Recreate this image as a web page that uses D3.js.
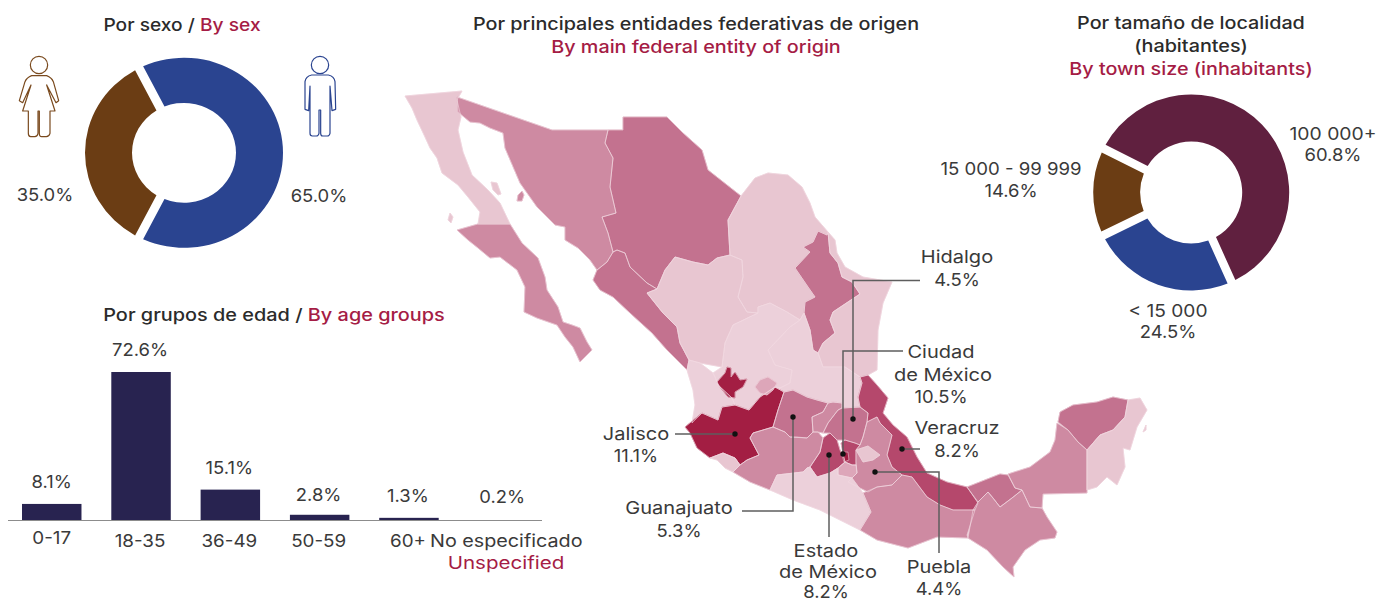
<!DOCTYPE html>
<html><head><meta charset="utf-8">
<script src="https://cdn.jsdelivr.net/npm/d3@7"></script>
<style>
html,body{margin:0;padding:0;background:#fff}
svg{display:block}
text{font-family:Inter,"Noto Sans",sans-serif;text-anchor:middle;dominant-baseline:central;fill:#3a3a3a}
.t{font-size:17.2px;font-weight:500;fill:#2b2b2b}
.r{fill:#a51c45}
.l{font-size:17.4px;font-weight:400}
</style></head><body><svg id="c" width="1378" height="603"></svg>
<script>
// ---------- data ----------
const sexLabels=["Mujeres","Hombres"];
const sexValues=[35.0,65.0];
const sexColors=["#6b3d14","#2a4490"];
const townLabels=["100 000+","< 15 000","15 000 - 99 999"];
const townValues=[60.8,24.5,14.6];
const townColors=["#60203f","#2a4490","#6b3d14"];
const ageGroups=["0-17","18-35","36-49","50-59","60+","No especificado"];
const ageValues=[8.1,72.6,15.1,2.8,1.3,0.2];
const ramp={a:"#ecd0da",b:"#e8c6d1",c:"#dda6b9",d:"#ce8aa2",e:"#c3728f",f:"#b5486c",g:"#a31e43"};
// state outlines (map units)
const states=[
["Baja California","b",[[[5,16],[62,11],[57,20],[61,37],[58,50],[63,72],[72,95],[88,110],[100,123],[110,144],[78,144],[80,132],[68,117],[58,105],[42,93],[37,78],[30,68],[25,57],[17,40],[12,28]],[[91,102],[97,103],[101,114],[98,115],[93,110]],[[50,133],[53,137],[51,143],[48,140]]]],
["Baja California Sur","d",[[[57,150],[78,144],[110,144],[122,163],[138,178],[145,197],[147,210],[158,227],[163,242],[172,245],[180,248],[187,262],[192,270],[180,282],[173,267],[165,257],[157,245],[137,238],[124,232],[125,207],[117,190],[100,177],[90,178],[78,168],[68,160]]]],
["Sonora","d",[[[57,17],[152,50],[208,50],[205,63],[213,78],[210,107],[216,133],[202,137],[208,153],[213,172],[207,182],[197,190],[190,180],[178,168],[165,160],[165,147],[155,145],[137,127],[120,103],[105,68],[103,53],[90,48],[80,43],[70,42],[58,32]],[[118,115],[122,111],[124,115],[122,121],[117,121]]]],
["Chihuahua","e",[[[223,37],[267,37],[283,53],[302,70],[308,90],[341,116],[328,140],[330,175],[317,178],[308,185],[293,182],[275,177],[265,190],[257,209],[247,203],[230,187],[225,173],[217,170],[213,172],[208,153],[202,137],[216,133],[210,107],[213,78],[205,63],[208,50],[223,50]]]],
["Sinaloa","e",[[[217,170],[225,173],[230,187],[247,203],[257,209],[247,213],[263,233],[277,247],[280,263],[289,280],[287,290],[267,270],[252,253],[230,233],[213,217],[200,210],[193,200],[197,190],[207,182],[213,172]]]],
["Durango","b",[[[275,177],[293,182],[308,185],[317,178],[330,175],[342,180],[343,197],[338,217],[347,232],[358,233],[333,245],[325,263],[322,287],[300,283],[289,280],[280,263],[277,247],[263,233],[247,213],[257,209],[265,190]]]],
["Coahuila","b",[[[341,116],[355,98],[368,93],[388,95],[402,107],[410,123],[415,137],[428,152],[427,155],[418,151],[413,162],[403,167],[410,172],[395,188],[408,207],[415,217],[405,222],[404,233],[400,240],[387,232],[370,223],[358,227],[358,233],[347,232],[338,217],[343,197],[342,180],[330,175],[328,140]]]],
["Nuevo León","e",[[[418,151],[427,155],[428,152],[430,173],[438,183],[442,197],[452,202],[460,214],[448,222],[433,232],[430,240],[435,253],[423,263],[418,273],[413,270],[410,250],[404,233],[405,222],[415,217],[408,207],[395,188],[410,172],[403,167],[413,162]]]],
["Tamaulipas","b",[[[428,152],[435,160],[437,173],[445,187],[463,197],[492,202],[483,223],[478,250],[477,290],[468,295],[460,297],[445,287],[423,287],[418,273],[423,263],[435,253],[430,240],[433,232],[448,222],[460,214],[452,202],[442,197],[438,183],[430,173]]]],
["Zacatecas","a",[[[358,233],[358,227],[370,223],[387,232],[400,240],[390,247],[368,270],[375,285],[392,290],[390,303],[380,308],[375,307],[360,317],[349,330],[335,325],[332,318],[318,305],[315,297],[313,293],[322,287],[325,263],[333,245]]]],
["San Luis Potosí","a",[[[400,240],[404,233],[410,250],[413,270],[418,273],[423,287],[445,287],[460,297],[462,303],[458,318],[460,327],[442,328],[442,323],[433,322],[428,323],[417,320],[407,317],[393,310],[384,312],[375,307],[380,308],[390,303],[392,290],[375,285],[368,270],[390,247]]]],
["Nayarit","a",[[[287,290],[289,280],[300,283],[313,293],[315,297],[318,305],[332,318],[335,325],[322,327],[318,340],[302,333],[292,343],[295,325],[293,310]]]],
["Jalisco","g",[[[285,347],[302,333],[318,340],[322,327],[335,325],[349,330],[360,317],[375,307],[384,312],[378,330],[373,347],[353,353],[350,358],[359,375],[347,380],[340,385],[335,378],[323,373],[310,378],[297,368],[290,353]],[[317,302],[325,293],[327,287],[331,288],[331,297],[335,292],[340,300],[347,299],[343,307],[335,312],[335,318],[328,317],[320,307]]]],
["Aguascalientes","c",[[[355,307],[360,300],[368,297],[377,303],[373,310],[367,315],[360,313]]]],
["Guanajuato","e",[[[384,312],[393,310],[407,317],[417,320],[428,323],[423,332],[412,337],[413,352],[407,358],[397,357],[390,357],[385,352],[373,347],[378,330]]]],
["Querétaro","d",[[[428,323],[433,322],[442,323],[442,328],[438,330],[428,343],[423,353],[418,352],[413,352],[412,337],[423,332]]]],
["Hidalgo","e",[[[442,328],[460,327],[468,333],[467,342],[463,357],[460,365],[455,363],[445,360],[437,360],[430,353],[423,353],[428,343],[438,330]]]],
["Puebla","d",[[[467,342],[477,337],[480,343],[492,355],[487,375],[492,387],[502,395],[492,405],[477,407],[468,412],[448,402],[457,393],[456,382],[456,370],[460,365],[463,357]]]],
["Tlaxcala","b",[[[456,370],[468,366],[480,375],[473,380],[463,382]]]],
["Estado de México","f",[[[410,387],[420,372],[423,358],[430,353],[437,360],[440,370],[444,378],[445,382],[438,388],[430,393],[417,397]],[[444,378],[441,363],[445,360],[455,363],[460,365],[456,370],[456,385],[452,385],[445,382]]]],
["Ciudad de México","g",[[[441,372],[448,372],[449,380],[444,382]]]],
["Morelos","c",[[[438,388],[445,382],[452,385],[456,385],[457,393],[452,398],[438,395]]]],
["Michoacán","d",[[[350,358],[353,353],[373,347],[385,352],[390,357],[407,358],[413,352],[418,352],[423,358],[420,372],[410,387],[407,388],[403,392],[377,395],[370,410],[350,402],[333,392],[340,385],[347,380],[359,375]]]],
["Colima","b",[[[310,378],[323,373],[335,378],[340,385],[333,392],[325,388],[317,380]]]],
["Guerrero","a",[[[370,410],[377,395],[403,392],[407,388],[410,387],[417,397],[430,393],[438,388],[438,395],[452,398],[463,413],[471,432],[460,450],[440,440],[420,430],[393,420]]]],
["Oaxaca","d",[[[463,413],[477,407],[492,405],[502,395],[512,397],[527,417],[540,425],[553,430],[575,430],[567,455],[568,458],[537,457],[508,468],[477,460],[460,450],[471,432]]]],
["Veracruz","f",[[[460,297],[468,295],[477,305],[488,318],[483,333],[493,345],[507,357],[517,377],[527,393],[547,402],[567,407],[578,423],[575,430],[553,430],[540,425],[527,417],[512,397],[502,395],[492,387],[487,375],[492,355],[480,343],[477,337],[467,342],[468,333],[460,327],[458,317],[462,303]]]],
["Tabasco","e",[[[567,407],[600,394],[608,395],[615,408],[622,410],[612,418],[600,427],[593,418],[588,412],[578,422]]]],
["Chiapas","d",[[[578,422],[588,412],[593,418],[600,427],[612,418],[622,410],[630,427],[642,428],[647,437],[657,452],[655,458],[640,460],[625,470],[613,487],[614,497],[603,487],[587,470],[568,458],[573,430]]]],
["Campeche","d",[[[608,394],[630,387],[650,372],[655,360],[657,343],[668,350],[678,362],[687,370],[687,413],[643,414],[642,428],[630,427],[622,410],[615,408]]]],
["Yucatán","e",[[[658,342],[660,332],[673,325],[697,322],[713,317],[728,320],[725,337],[713,350],[700,355],[687,370],[678,362],[668,350]]]],
["Quintana Roo","b",[[[728,320],[740,318],[747,330],[737,347],[730,370],[723,368],[725,387],[717,405],[707,397],[697,407],[687,410],[687,370],[700,355],[713,350],[725,337]],[[743,352],[746,345],[746,350]]]]
];
const calloutValues=["4.5%","10.5%","8.2%","11.1%","5.3%","8.2%","4.4%"];

// ---------- helpers ----------
const svg=d3.select("#c");
function widen(t,x,k){t.attr("transform",`translate(${x},0) scale(${k},1) translate(${-x},0)`);return t;}
function txt(s,x,y,cls,col,k){
  const t=svg.append("text").attr("x",x).attr("y",y).attr("class",cls||"l").text(s);
  if(col)t.style("fill",col);
  return widen(t,x,k||(/[A-Za-z]{2,}/.test(s)?1.15:1.06));
}
function mixed(a,b,cx,y,k){const t=svg.append("text").attr("x",cx).attr("y",y).attr("class","t");t.append("tspan").text(a);t.append("tspan").attr("class","r").text(b);widen(t,cx,k);}
function donut(vals,cols,cx,cy,ro,ri,startDeg,gap,sy){
  const pie=d3.pie().sort(null).startAngle(startDeg*Math.PI/180).endAngle((startDeg+360)*Math.PI/180);
  const arc=d3.arc().innerRadius(ri).outerRadius(ro).padRadius(ro).padAngle(gap/ro);
  svg.append("g").attr("transform",`translate(${cx},${cy}) scale(1,${sy})`).selectAll("path").data(pie(vals)).join("path").attr("d",arc).attr("fill",(d,i)=>cols[i]);
}

// ---------- map ----------
const proj=d3.geoIdentity().translate([400,80]);
const geo=d3.geoPath(proj);
const features=states.map(([name,k,rings])=>({type:"Feature",properties:{name,k},geometry:{type:"MultiPolygon",coordinates:rings.map(r=>[[...r,r[0]]])}}));
svg.append("g").selectAll("path").data(features).join("path")
  .attr("d",geo).attr("fill",d=>ramp[d.properties.k]).attr("stroke",d=>ramp[d.properties.k]).attr("stroke-width",0.6).attr("stroke-linejoin","round");
svg.append("g").selectAll("path").data(features).join("path")
  .attr("d",geo).attr("fill","none").attr("stroke","#f2d8e1").attr("stroke-width",0.7).attr("stroke-linejoin","round").attr("opacity",0.85);

// ---------- donuts ----------
donut(sexValues,sexColors,184,152.8,99,52,207,9,0.96);
donut(townValues,townColors,1191.2,192.5,98,51,296.6,8.5,1);

// ---------- icons ----------
function icon(x,y,col,d){
  const g=svg.append("g").attr("transform",`translate(${x},${y}) scale(0.3333)`).attr("fill","none").attr("stroke",col).attr("stroke-width",3.6).attr("stroke-linejoin","round");
  g.append("circle").attr("r",26);
  g.append("path").attr("d",d);
}
icon(39,65,"#7a4a1e","M-22,32L23,32Q38,38 43,50L59,107L51,113L23,60L48,138L33,138L33,205Q30,215 22,215L8,215Q1,215 1,205L1,138L-3,138L-3,205Q-5,215 -12,215L-25,215Q-32,215 -32,205L-32,138L-49,138L-24,60L-49,113L-59,107L-42,50Q-37,38 -22,32Z");
icon(320,65,"#2a4490","M-25,30L25,30Q43,34 45,50L47,133L36,137L30,63L30,205Q28,213 22,213L8,213Q2,213 2,205L2,135L-3,135L-3,205Q-5,213 -11,213L-23,213Q-30,213 -30,205L-30,63L-34,137L-45,133L-45,50Q-43,34 -25,30Z");

// ---------- bars ----------
const x=d3.scaleBand().domain(ageGroups).range([22,528]).paddingInner(0.334).paddingOuter(0);
const y=d3.scaleLinear().domain([0,72.6]).range([520.5,372]);
svg.append("g").selectAll("rect").data(ageValues).join("rect")
  .attr("x",(d,i)=>x(ageGroups[i])).attr("width",x.bandwidth())
  .attr("y",d=>y(d)).attr("height",d=>y(0)-y(d)).attr("fill","#282350");
svg.append("line").attr("x1",8).attr("x2",542).attr("y1",520.5).attr("y2",520.5).attr("stroke","#8c8c8c").attr("stroke-width",1.2);
const valDx=[0,-1,-1,-1,-1,4], valDy=[0,0,0,2,0,-1], tickDx=[0,-1,-1,-1,-1,8], tickY=[537,540,540,540,540,540];
ageValues.forEach((v,i)=>{
  const c=x(ageGroups[i])+x.bandwidth()/2;
  txt(v.toFixed(1)+"%",c+valDx[i],y(v)-22+valDy[i]);
  txt(ageGroups[i],c+tickDx[i],tickY[i],"l",null,i==5?1.135:1.08);
});
txt("Unspecified",506,563,"l","#a51c45",1.18);

// ---------- titles ----------
mixed("Por sexo / ","By sex",182,24,1.115);
txt("Por principales entidades federativas de origen",696,24,"t");
txt("By main federal entity of origin",696,47,"t").style("fill","#a51c45");
txt("Por tamaño de localidad",1191,23,"t");
txt("(habitantes)",1191,46,"t");
txt("By town size (inhabitants)",1191,69,"t").style("fill","#a51c45");
mixed("Por grupos de edad / ","By age groups",274,315,1.156);

// ---------- pie labels ----------
txt(sexValues[0].toFixed(1)+"%",45,195);
txt(sexValues[1].toFixed(1)+"%",319,196);
[[1333,133,1.11],[1168,310,1.1],[1011,169,1.07]].forEach(([a,b,k],i)=>{
  txt(townLabels[i],a,b,"l",null,k);
  txt(townValues[i].toFixed(1)+"%",a,b+22);
});

// ---------- callouts ----------
const calloutRoutes=[
 [[453,339],[453,200.5],[520,200.5]],
 [[443,374],[443,271],[503,271]],
 [[502,369],[520,369]],
 [[335,354],[275,354]],
 [[393,337],[393,431],[342,431]],
 [[429,375],[429,457]],
 [[475,392],[539,392],[539,473]]
];
const calloutText=[
 [["Hidalgo"],957,257,957,280],
 [["Ciudad","de México"],941,352,941,397],
 [["Veracruz"],957,428,957,451],
 [["Jalisco"],636,434,636,456],
 [["Guanajuato"],679,508,679,531],
 [["Estado","de México"],826,551,826,592],
 [["Puebla"],939,567,939,589]
];
const line=d3.line().x(p=>proj(p)[0]).y(p=>proj(p)[1]);
calloutRoutes.forEach((r,i)=>{
  svg.append("path").attr("d",line(r)).attr("fill","none").attr("stroke","#5e5e5e").attr("stroke-width",1.5);
  const a=proj(r[0]);
  svg.append("circle").attr("cx",a[0]).attr("cy",a[1]).attr("r",2.7).attr("fill","#111");
  const [ls,lx,ly,vx,vy]=calloutText[i];
  ls.forEach((s,j)=>txt(s,lx+(j?2:0),ly+j*(i==5?20.5:22.5)));
  txt(calloutValues[i],vx,vy);
});
</script></body></html>
